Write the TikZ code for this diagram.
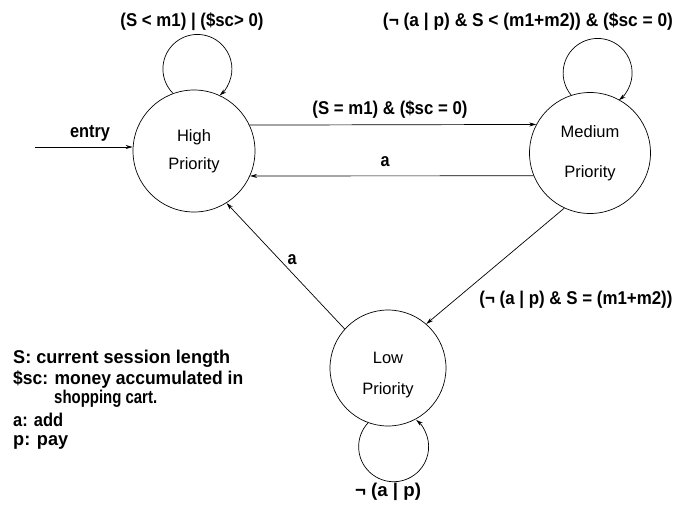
\documentclass[tikz,border=0pt]{standalone}
\usepackage{fontspec}
\usepackage{graphicx}
\setmainfont{Liberation Sans}
\newfontfamily\lbf{Liberation Sans}
\usetikzlibrary{arrows.meta}
\newcommand\wlab[2]{\resizebox{#1pt}{\height}{\lbf\bfseries #2}}
\begin{document}
\begin{tikzpicture}[x=1pt,y=1pt,
  state/.style={draw,circle,line width=0.7pt,minimum size=#1pt,inner sep=0pt,align=center,
     font=\fontsize{16.5}{19}\selectfont},
  trans/.style={line width=0.7pt,-{Stealth[length=7pt,width=4pt]}},
  lab/.style={inner sep=0pt,font=\fontsize{18.5}{20}\selectfont},
  leg/.style={inner sep=0pt,anchor=west,font=\fontsize{18.5}{20}\selectfont}]
\useasboundingbox (0,0) rectangle (675,-504);
\node[state=122] (High) at (194,-151) {High\\[9pt]Priority};
\node[state=121] (Medium) at (590,-153) {Medium\\[21pt]Priority};
\node[state=116] (Low) at (388,-368) {\rule{0pt}{26pt}Low\\[12pt]Priority};
\coordinate (ein) at (35,-147);
% entry
\draw[trans] (ein) -- (ein -| High.west);
\node[lab] (lentry) at (90,-133) {\wlab{40}{entry}};
% self loops
\draw[trans] (High.110) arc[start angle=225,end angle=-50,radius=34.5];
\node[lab] (lhigh) at (192,-22) {\wlab{143}{(S < m1) | (\$sc> 0)}};
\draw[trans] (Medium.108) arc[start angle=220,end angle=-52,radius=34.5];
\node[lab] (lmed) at (528,-22) {\wlab{290}{(¬ (a | p) \& S < (m1+m2)) \& (\$sc = 0)}};
\draw[trans] (Low.250) arc[start angle=137,end angle=410,radius=35];
\node[lab] (llow) at (388,-492) {\wlab{66}{¬ (a | p)}};
% transitions
\draw[trans] (High.25) -- (Medium.152);
\node[lab] (lhm) at (390,-110) {\wlab{155}{(S = m1) \& (\$sc = 0)}};
\draw[trans] (Medium.202) -- (High.-24);
\node[lab] (lmh) at (385,-162) {\wlab{9}{a}};
\draw[trans] (Low.138) -- (High.-58);
\node[lab] (llh) at (292,-260) {\wlab{9}{a}};
\draw[trans] (Medium.245) -- (Low.49);
\node[lab] (lml) at (576,-300) {\wlab{193}{(¬ (a | p) \& S = (m1+m2))}};
% legend
\node[leg] (leg1) at (13,-359) {\wlab{217}{S: current session length}};
\node[leg] (leg2) at (13,-380) {\wlab{230}{\$sc: money accumulated in}};
\node[leg] (leg3) at (54,-399) {\wlab{103}{shopping cart.}};
\node[leg] (leg4) at (13,-420) {\wlab{50}{a: add}};
\node[leg] (leg5) at (13,-442) {\wlab{55}{p: pay}};
\end{tikzpicture}
\end{document}
